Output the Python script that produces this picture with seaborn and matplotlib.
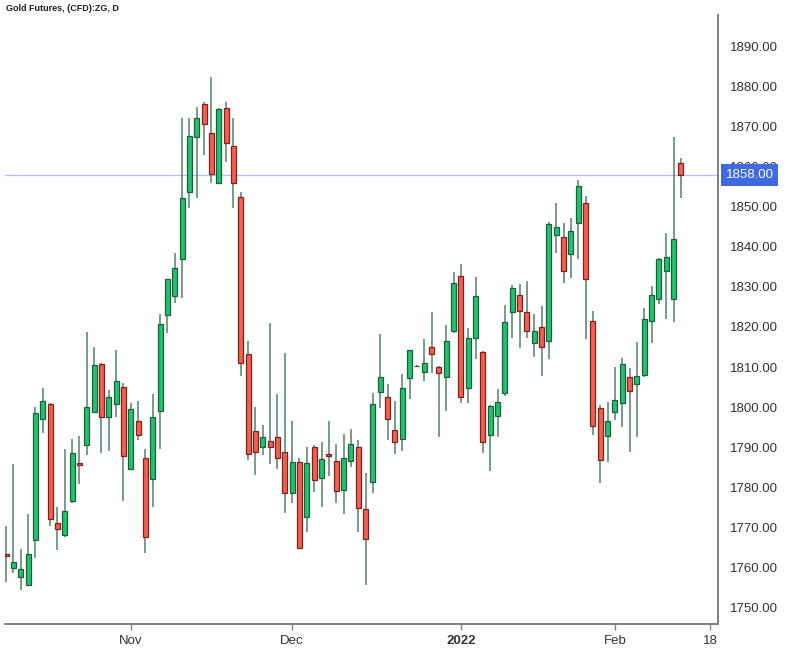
"""
Gold Futures (CFD:ZG) daily candlestick chart, Oct 2021 - Feb 2022.
Saves out.png (786x657).
"""

import matplotlib

matplotlib.use("Agg")

import matplotlib.pyplot as plt
import numpy as np
import pandas as pd
import seaborn as sns

# ---------------------------------------------------------------------------
# Data (daily OHLC)
# ---------------------------------------------------------------------------
START_DAY = "2021-10-07"
AXIS_END_DAY = "2022-02-18"

opens = [
    1763.3, 1759.8, 1757.5, 1755.5, 1766.75, 1797.0, 1800.75, 1771.0, 1768.0, 1776.5,
    1786.1, 1790.5, 1798.75, 1810.75, 1797.5, 1800.75, 1805.0,
    # Nov
    1784.5, 1796.5, 1787.25, 1782.0, 1799.0, 1823.0, 1827.75, 1837.0, 1853.75, 1867.5,
    1875.75, 1868.5, 1856.0, 1874.75, 1865.25, 1852.5, 1813.25, 1794.0, 1790.0, 1791.5,
    1792.5, 1788.75,
    # Dec
    1778.5, 1786.25, 1772.5, 1790.0, 1782.25, 1788.3, 1786.5, 1779.25, 1786.5, 1790.0,
    1774.5, 1781.25, 1803.75, 1802.5, 1794.25, 1792.0, 1807.25, 1810.2, 1808.75, 1815.0,
    1810.0, 1807.5, 1819.0,
    # Jan
    1832.75, 1804.75, 1817.25, 1813.75, 1793.0, 1797.75, 1803.5, 1823.75, 1828.0, 1823.75,
    1816.0, 1820.0, 1816.5, 1843.0, 1842.5, 1838.25, 1846.0, 1851.0, 1821.5, 1799.75,
    1792.75,
    # Feb
    1798.75, 1801.0, 1807.5, 1805.75, 1808.0, 1821.5, 1827.0, 1834.0, 1827.0, 1861.0,
]
highs = [
    1770.25, 1785.8, 1764.5, 1773.25, 1800.0, 1804.75, 1801.0, 1775.0, 1789.5, 1792.0,
    1792.75, 1818.75, 1815.0, 1811.0, 1804.25, 1814.25, 1806.0,
    1801.0, 1801.5, 1789.5, 1803.25, 1823.25, 1832.0, 1838.5, 1872.25, 1872.25, 1875.0,
    1876.25, 1882.5, 1874.75, 1876.25, 1872.25, 1853.75, 1816.5, 1800.0, 1795.5, 1821.0,
    1803.25, 1813.5,
    1796.5, 1787.25, 1790.0, 1790.5, 1791.25, 1796.5, 1790.75, 1793.25, 1794.5, 1791.75,
    1783.5, 1803.5, 1818.25, 1805.75, 1801.5, 1808.25, 1814.25, 1810.4, 1817.0, 1823.75,
    1810.25, 1820.5, 1833.75,
    1835.75, 1819.75, 1832.5, 1814.0, 1800.5, 1804.5, 1825.5, 1830.5, 1830.75, 1831.5,
    1823.25, 1825.25, 1846.25, 1851.0, 1846.0, 1847.25, 1856.75, 1852.75, 1824.0, 1800.5,
    1801.25,
    1810.0, 1812.25, 1809.75, 1816.25, 1824.75, 1830.25, 1837.25, 1843.5, 1867.5, 1862.25,
]
lows = [
    1756.25, 1758.5, 1754.25, 1755.25, 1762.25, 1793.5, 1770.25, 1764.25, 1767.5, 1776.0,
    1780.75, 1788.0, 1798.5, 1788.5, 1789.0, 1797.5, 1776.5,
    1784.25, 1791.75, 1763.5, 1775.0, 1789.5, 1818.5, 1826.0, 1827.25, 1849.75, 1852.25,
    1863.0, 1856.0, 1855.75, 1861.25, 1849.75, 1807.75, 1786.75, 1783.0, 1788.0, 1785.75,
    1784.5, 1773.5,
    1776.0, 1764.5, 1768.75, 1778.75, 1775.0, 1782.75, 1776.0, 1773.25, 1785.0, 1768.75,
    1755.5, 1778.5, 1799.75, 1791.75, 1788.25, 1789.0, 1802.0, 1810.1, 1806.5, 1808.5,
    1792.5, 1799.0, 1818.5,
    1801.0, 1801.0, 1812.0, 1788.5, 1784.0, 1792.5, 1802.75, 1817.25, 1814.75, 1817.25,
    1812.5, 1807.75, 1812.0, 1838.5, 1831.0, 1832.25, 1837.0, 1817.0, 1793.0, 1781.0,
    1786.25,
    1796.75, 1795.0, 1788.75, 1792.5, 1807.5, 1816.0, 1825.75, 1822.0, 1821.25, 1852.25,
]
closes = [
    1762.7, 1761.2, 1759.5, 1763.25, 1798.5, 1801.5, 1772.0, 1769.5, 1774.0, 1788.5,
    1785.4, 1800.0, 1810.5, 1797.5, 1802.5, 1806.5, 1787.75,
    1799.5, 1793.0, 1767.5, 1797.5, 1820.75, 1832.0, 1834.75, 1852.25, 1867.75, 1872.25,
    1870.75, 1858.25, 1874.5, 1866.0, 1856.0, 1811.0, 1788.25, 1788.75, 1792.5, 1790.0,
    1787.25, 1778.5,
    1786.25, 1764.75, 1786.0, 1781.75, 1787.0, 1787.7, 1779.0, 1787.25, 1790.75, 1774.75,
    1767.0, 1800.75, 1807.5, 1797.0, 1791.25, 1804.75, 1814.25, 1810.3, 1811.0, 1813.25,
    1808.5, 1816.5, 1831.0,
    1802.5, 1817.25, 1827.75, 1791.25, 1800.25, 1801.25, 1821.25, 1829.75, 1824.0, 1819.0,
    1819.0, 1815.0, 1845.75, 1845.0, 1834.0, 1844.0, 1855.25, 1832.0, 1795.25, 1786.75,
    1796.5,
    1801.75, 1810.75, 1804.0, 1807.75, 1822.0, 1828.0, 1837.0, 1837.5, 1842.0, 1858.0,
]

LAST_PRICE = 1858.0

tick_dates = ["2021-11-01", "2021-12-01", "2022-01-03", "2022-02-01", "2022-02-18"]
tick_labels = ["Nov", "Dec", "2022", "Feb", "18"]
price_ticks = list(range(1750, 1900, 10))

# ---------------------------------------------------------------------------
# Styling
# ---------------------------------------------------------------------------
UP_FILL = "#22c26c"
UP_EDGE = "#1d5e3e"
DOWN_FILL = "#f2604f"
DOWN_EDGE = "#7c2222"
WICK = "#52806a"
SPINE = "#808080"
TEXT = "#333333"
PRICE_LINE = "#b4bcf4"
PRICE_BOX = "#4169e1"

sns.set_theme(style="white")
plt.rcParams["font.family"] = ["Liberation Sans", "DejaVu Sans"]

# trading-day axis (weekdays only)
axis_days = pd.bdate_range(START_DAY, AXIS_END_DAY)
day_pos = {d.strftime("%Y-%m-%d"): i for i, d in enumerate(axis_days)}

df = pd.DataFrame(
    {"open": opens, "high": highs, "low": lows, "close": closes},
    index=axis_days[: len(opens)],
)
df["pos"] = np.arange(len(df))
df["up"] = df["close"] >= df["open"]
df["body_lo"] = df[["open", "close"]].min(axis=1)
df["body_h"] = (df["close"] - df["open"]).abs().clip(lower=0.15)

fig = plt.figure(figsize=(7.86, 6.57), dpi=100)
ax = fig.add_axes([0.0064, 0.0502, 0.907, 0.927])

# wicks
ax.vlines(df["pos"], df["low"], df["high"], color=WICK, linewidth=1.1, zorder=1)

# bodies
for is_up, fill, edge in [(True, UP_FILL, UP_EDGE), (False, DOWN_FILL, DOWN_EDGE)]:
    sub = df[df["up"] == is_up]
    ax.bar(
        sub["pos"], sub["body_h"], bottom=sub["body_lo"], width=0.68,
        color=fill, edgecolor=edge, linewidth=0.9, zorder=2,
    )

# last price line + tag
ax.axhline(LAST_PRICE, color=PRICE_LINE, linewidth=0.9, zorder=0.5)
ax.annotate(
    f"{LAST_PRICE:.2f}",
    xy=(1.0, LAST_PRICE), xycoords=("axes fraction", "data"),
    xytext=(5.6, 0), textcoords="offset points",
    ha="left", va="center", color="white", fontsize=9.5,
    bbox=dict(boxstyle="square,pad=0.36", fc=PRICE_BOX, ec="none"),
    annotation_clip=False, zorder=6,
)

# axes limits / ticks
ax.set_xlim(-0.14, 97.04)
ax.set_ylim(1745.75, 1898)

ax.set_xticks([day_pos[d] for d in tick_dates])
ax.set_xticklabels(tick_labels)
for lbl in ax.get_xticklabels():
    if lbl.get_text() == "2022":
        lbl.set_fontweight("bold")

ax.yaxis.tick_right()
ax.set_yticks(price_ticks)
ax.set_yticklabels([f"{p:.2f}" for p in price_ticks])

ax.tick_params(axis="x", bottom=True, top=False, pad=4)
ax.tick_params(axis="y", right=True, left=False, labelright=True, labelleft=False, pad=5)
ax.tick_params(axis="both", colors=SPINE, labelcolor=TEXT, labelsize=9.5,
               length=4, width=1.0, direction="out")

sns.despine(ax=ax, left=True, top=True, right=False, bottom=False)
for side in ("right", "bottom"):
    ax.spines[side].set_color(SPINE)
    ax.spines[side].set_linewidth(1.4)

ax.grid(False)
ax.set_xlabel("")
ax.set_ylabel("")

fig.text(0.007, 0.994, "Gold Futures, (CFD):ZG, D", fontsize=6.5,
         fontweight="bold", color="#222222", ha="left", va="top")

fig.savefig("out.png", dpi=100, facecolor="white")
plt.close(fig)
